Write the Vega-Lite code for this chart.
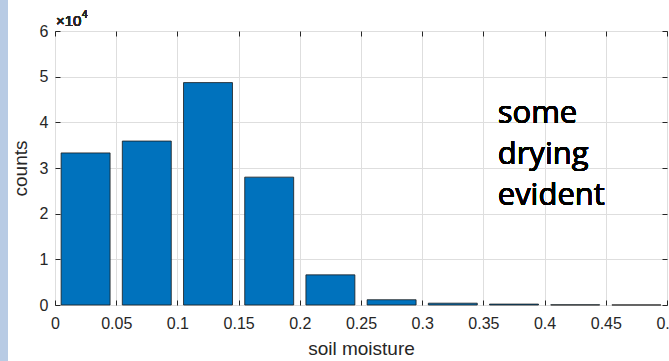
{
  "$schema": "https://vega.github.io/schema/vega-lite/v6.json",
  "width": 612,
  "height": 274,
  "autosize": {"type": "none"},
  "padding": {"left": 55, "top": 31, "right": 2, "bottom": 56},
  "background": "white",
  "config": {
    "font": "Liberation Sans",
    "view": {"stroke": "#262626", "strokeWidth": 1},
    "axis": {
      "labelFont": "Liberation Sans",
      "titleFont": "Liberation Sans",
      "labelColor": "#262626",
      "titleColor": "#262626",
      "labelFontSize": 16,
      "titleFontSize": 19,
      "titleFontWeight": "normal",
      "gridColor": "#dedede",
      "gridWidth": 1,
      "tickColor": "#262626",
      "domainColor": "#262626",
      "labelOverlap": false,
      "labelFlush": false
    }
  },
  "data": {
    "values": [
      {"start": 0.005, "end": 0.045, "count": 33300},
      {"start": 0.055, "end": 0.095, "count": 35900},
      {"start": 0.105, "end": 0.145, "count": 48700},
      {"start": 0.155, "end": 0.195, "count": 28000},
      {"start": 0.205, "end": 0.245, "count": 6600},
      {"start": 0.255, "end": 0.295, "count": 1150},
      {"start": 0.305, "end": 0.345, "count": 400},
      {"start": 0.355, "end": 0.395, "count": 200},
      {"start": 0.405, "end": 0.445, "count": 40},
      {"start": 0.455, "end": 0.495, "count": 15}
    ]
  },
  "layer": [
    {
      "mark": {"type": "rect", "fill": "#b8cbe4"},
      "encoding": {
        "x": {"datum": -0.045, "type": "quantitative", "scale": {"domain": [0, 0.5], "nice": false, "zero": false}, "axis": null},
        "x2": {"datum": -0.0385},
        "y": {"datum": 67000, "type": "quantitative", "scale": {"domain": [0, 60000], "nice": false}, "axis": null},
        "y2": {"datum": -13000}
      }
    },
    {
      "mark": {"type": "rect", "fill": "#0072BD", "stroke": "#1a1a1a", "strokeWidth": 0.8},
      "encoding": {
        "x": {
          "field": "start", "type": "quantitative",
          "scale": {"domain": [0, 0.5], "nice": false, "zero": false},
          "axis": {
            "orient": "bottom",
            "values": [0, 0.05, 0.1, 0.15, 0.2, 0.25, 0.3, 0.35, 0.4, 0.45, 0.5],
            "labelExpr": "format(datum.value, '~g')",
            "grid": true,
            "tickSize": -5,
            "labelPadding": 15,
            "title": "soil moisture",
            "titlePadding": 8,
            "domain": false
          }
        },
        "x2": {"field": "end"},
        "y": {
          "field": "count", "type": "quantitative",
          "scale": {"domain": [0, 60000], "nice": false},
          "axis": {
            "orient": "left",
            "values": [0, 10000, 20000, 30000, 40000, 50000, 60000],
            "labelExpr": "format(datum.value / 10000, '~g')",
            "grid": true,
            "tickSize": -5,
            "labelPadding": 12,
            "title": "counts",
            "titlePadding": 9,
            "domain": false
          }
        },
        "y2": {"datum": 0}
      }
    },
    {
      "mark": {"type": "point", "opacity": 0},
      "encoding": {
        "x": {
          "field": "start", "type": "quantitative",
          "scale": {"domain": [0, 0.5], "nice": false, "zero": false},
          "axis": {"orient": "top", "values": [0, 0.05, 0.1, 0.15, 0.2, 0.25, 0.3, 0.35, 0.4, 0.45, 0.5], "labels": false, "grid": false, "domain": false, "tickSize": -5, "title": null}
        },
        "y": {
          "field": "count", "type": "quantitative",
          "scale": {"domain": [0, 60000], "nice": false},
          "axis": {"orient": "right", "values": [0, 10000, 20000, 30000, 40000, 50000, 60000], "labels": false, "grid": false, "domain": false, "tickSize": -5, "title": null}
        }
      }
    },
    {
      "mark": {"type": "text", "align": "left", "baseline": "alphabetic", "dx": 1, "dy": -5, "fontSize": 15, "fontWeight": "normal", "color": "#262626", "font": "Liberation Sans"},
      "encoding": {
        "x": {"datum": 0, "type": "quantitative", "scale": {"domain": [0, 0.5], "nice": false, "zero": false}, "axis": null},
        "y": {"datum": 60000, "type": "quantitative", "scale": {"domain": [0, 60000], "nice": false}, "axis": null},
        "text": {"value": "×10"}
      }
    },
    {
      "mark": {"type": "text", "align": "left", "baseline": "alphabetic", "dx": 27, "dy": -13, "fontSize": 10, "fontWeight": "normal", "color": "#262626", "font": "Liberation Sans"},
      "encoding": {
        "x": {"datum": 0, "type": "quantitative", "scale": {"domain": [0, 0.5], "nice": false, "zero": false}, "axis": null},
        "y": {"datum": 60000, "type": "quantitative", "scale": {"domain": [0, 60000], "nice": false}, "axis": null},
        "text": {"value": "4"}
      }
    },
    {
      "mark": {"type": "text", "align": "left", "baseline": "alphabetic", "fontSize": 31, "lineHeight": 41, "color": "#000000", "font": "Open Sans"},
      "encoding": {
        "x": {"datum": 0.3617, "type": "quantitative", "scale": {"domain": [0, 0.5], "nice": false, "zero": false}, "axis": null},
        "y": {"datum": 39800, "type": "quantitative", "scale": {"domain": [0, 60000], "nice": false}, "axis": null},
        "text": {"value": ["some", "drying", "evident"]}
      }
    }
  ],
  "resolve": {"axis": {"x": "independent", "y": "independent"}}
}
